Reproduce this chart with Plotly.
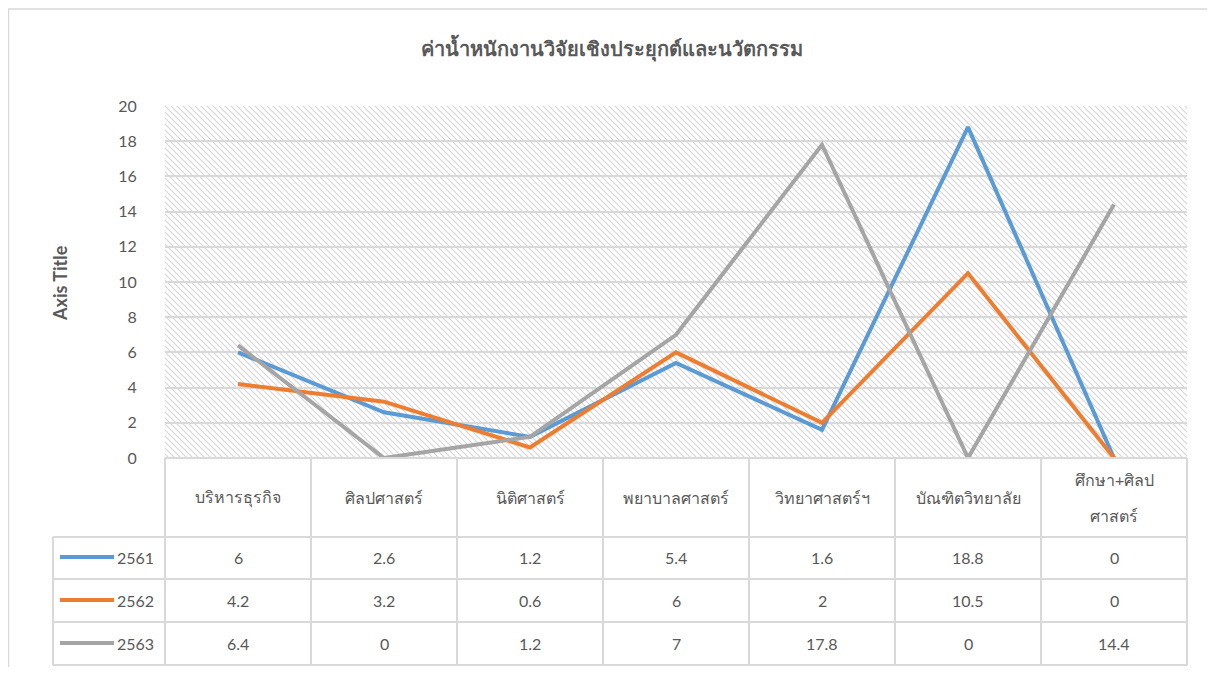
import base64
import plotly.graph_objects as go

title = "ค่าน้ำหนักงานวิจัยเชิงประยุกต์และนวัตกรรม"
categories = ["บริหารธุรกิจ", "ศิลปศาสตร์", "นิติศาสตร์", "พยาบาลศาสตร์",
              "วิทยาศาสตร์ฯ", "บัณฑิตวิทยาลัย", "ศึกษา+ศิลปศาสตร์"]
tick_labels = ["บริหารธุรกิจ", "ศิลปศาสตร์", "นิติศาสตร์", "พยาบาลศาสตร์",
               "วิทยาศาสตร์ฯ", "บัณฑิตวิทยาลัย", "ศึกษา+ศิลป<br>ศาสตร์"]
series_names = ["2561", "2562", "2563"]
v2561 = [6, 2.6, 1.2, 5.4, 1.6, 18.8, 0]
v2562 = [4.2, 3.2, 0.6, 6, 2, 10.5, 0]
v2563 = [6.4, 0, 1.2, 7, 17.8, 0, 14.4]
series_values = [v2561, v2562, v2563]
colors = ["#5B9BD5", "#ED7D31", "#A5A5A5"]

FONT = "Lato, 'Noto Sans', sans-serif"
TXT = "#595959"
GRID = "#D9D9D9"

OFF = 8  # page body margin
W, H = 1199, 659
P_LEFT, P_RIGHT, P_TOP, P_BOTTOM = 165, 1187, 106, 458
ML = P_LEFT - OFF
MT = P_TOP - OFF
MR = W - (P_RIGHT - OFF)
MB = H - (P_BOTTOM - OFF)
PW, PH = W - ML - MR, H - MT - MB

def py(pix):
    return (P_BOTTOM - pix) / PH

def px(pix):
    return (pix - P_LEFT) / PW

fig = go.Figure()
for name, vals, col in zip(series_names, series_values, colors):
    fig.add_trace(go.Scatter(x=categories, y=vals, mode="lines", name=name,
                             line=dict(color=col, width=4), showlegend=False))

svg = ("<svg xmlns='http://www.w3.org/2000/svg' width='%d' height='%d'>"
       "<defs><pattern id='h' width='6' height='6' patternUnits='userSpaceOnUse'>"
       "<path d='M-1,-1 L7,7 M-1,5 L1,7 M5,-1 L7,1' stroke='#D6D6D6' stroke-width='1.2'/>"
       "</pattern></defs><rect width='100%%' height='100%%' fill='url(#h)'/></svg>") % (PW, PH)
src = "data:image/svg+xml;base64," + base64.b64encode(svg.encode()).decode()

shapes = []
shapes.append(dict(type="rect", xref="paper", yref="paper", x0=px(8.5), x1=px(1300),
                   y0=py(720), y1=py(9), line=dict(color=GRID, width=1.5), layer="below"))
n = len(categories)
row_lines = [537, 579, 622, 665]
shapes.append(dict(type="line", xref="paper", yref="paper", x0=0, x1=1, y0=0, y1=0,
                   line=dict(color=GRID, width=2)))
for r in row_lines:
    shapes.append(dict(type="line", xref="paper", yref="paper", x0=px(53), x1=1,
                       y0=py(r), y1=py(r), line=dict(color=GRID, width=2)))
for k in range(n + 1):
    shapes.append(dict(type="line", xref="paper", yref="paper", x0=k / n, x1=k / n,
                       y0=0, y1=py(665), line=dict(color=GRID, width=2)))
shapes.append(dict(type="line", xref="paper", yref="paper", x0=px(53), x1=px(53),
                   y0=py(537), y1=py(665), line=dict(color=GRID, width=2)))

annotations = []
HEADER_CENTER = 497
LINE_GAP = 36
for c, lab in zip(categories, tick_labels):
    parts = lab.split("<br>")
    start = HEADER_CENTER - LINE_GAP * (len(parts) - 1) / 2
    for i, part in enumerate(parts):
        annotations.append(dict(x=c, xref="x", y=py(start + i * LINE_GAP), yref="paper",
                                text=part, showarrow=False, xanchor="center", yanchor="middle",
                                font=dict(size=16, color=TXT, family=FONT)))
row_centers = [557, 600, 643]
for name, vals, col, rc in zip(series_names, series_values, colors, row_centers):
    yy = py(rc)
    shapes.append(dict(type="line", xref="paper", yref="paper", x0=px(60), x1=px(114),
                       y0=yy, y1=yy, line=dict(color=col, width=4)))
    annotations.append(dict(x=px(156), xref="paper", y=yy, yref="paper", text=name,
                            showarrow=False, xanchor="right", yanchor="middle",
                            font=dict(size=16, color=TXT, family=FONT)))
    for c, v in zip(categories, vals):
        annotations.append(dict(x=c, xref="x", y=yy, yref="paper", text=f"{v:g}",
                                showarrow=False, xanchor="center", yanchor="middle",
                                font=dict(size=16, color=TXT, family=FONT)))
annotations.append(dict(x=px(60), xref="paper", y=py(283), yref="paper", text="<b>Axis Title</b>",
                        textangle=-90, showarrow=False, xanchor="center", yanchor="middle",
                        font=dict(size=18, color=TXT, family=FONT)))
annotations.append(dict(x=px(612), xref="paper", y=py(48), yref="paper", text="<b>" + title + "</b>",
                        showarrow=False, xanchor="center", yanchor="middle",
                        font=dict(size=20, color=TXT, family=FONT)))

fig.update_layout(
    width=W, height=H,
    margin=dict(l=ML, r=MR, t=MT, b=MB, autoexpand=False),
    paper_bgcolor="white", plot_bgcolor="rgba(0,0,0,0)",
    font=dict(family=FONT, color=TXT, size=16),
    xaxis=dict(type="category", range=[-0.5, n - 0.5], showticklabels=False,
               showgrid=False, zeroline=False, showline=False, ticks=""),
    yaxis=dict(range=[0, 20], dtick=2, showgrid=True, gridcolor=GRID, gridwidth=1.5,
               zeroline=False, showline=False, ticks="outside", ticklen=24,
               tickcolor="rgba(0,0,0,0)", tickfont=dict(size=16, color=TXT, family=FONT)),
    shapes=shapes, annotations=annotations,
    images=[dict(source=src, xref="paper", yref="paper", x=0, y=1, sizex=1, sizey=1,
                 sizing="stretch", xanchor="left", yanchor="top", layer="below")],
)
fig.write_html("out.html")
